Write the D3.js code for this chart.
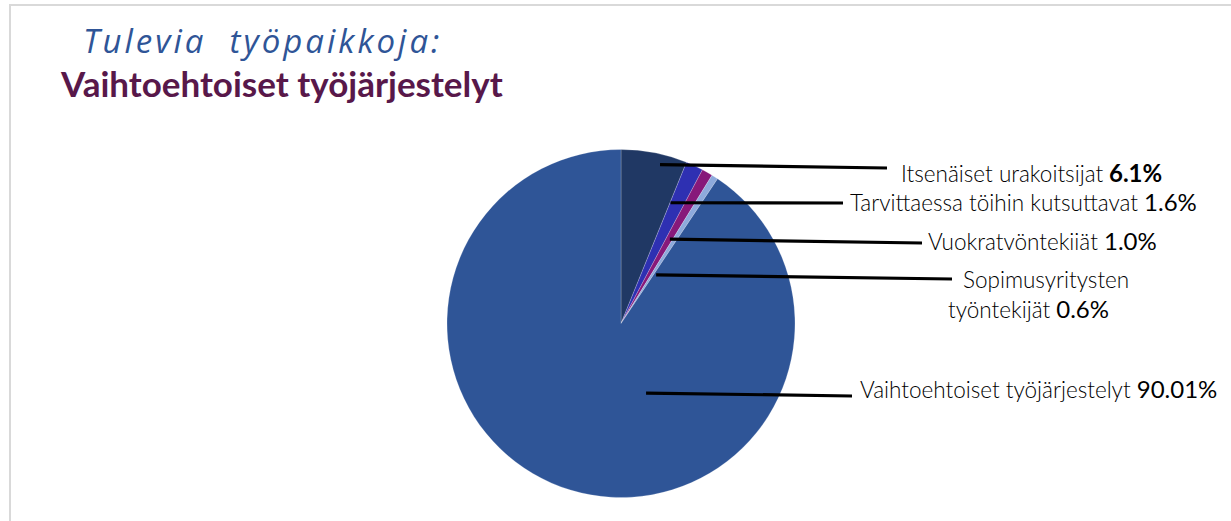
<!DOCTYPE html>
<html>
<head>
<meta charset="utf-8">
<style>
  html, body { margin: 0; padding: 0; background: #fff; }
  svg { display: block; }
</style>
</head>
<body>
<svg id="draw"></svg>

<script src="https://cdn.jsdelivr.net/npm/d3@7/dist/d3.min.js"></script>

<script>
    var width = 1231;
    var height = 521;

    // chart data
    var categories = ["Itsenäiset urakoitsijat", "Tarvittaessa töihin kutsuttavat", "Vuokratvöntekiiät", "Sopimusyritysten työntekijät", "Vaihtoehtoiset työjärjestelyt"];
    var values = [6.1, 1.6, 1.0, 0.6, 90.01];
    var valueLabels = ["6.1%", "1.6%", "1.0%", "0.6%", "90.01%"];

    var sliceColors = ["#203864", "#2e30b2", "#87197a", "#8eaadc", "#2f5597"];

    // where the labels sit (layout only)
    var labelLayout = [
        {deg: 13.8, r: 0.94, end: [887, 168], lines: [{x: 901, y: 182, name: "Itsenäiset urakoitsijat", val: true}], bold: 700},
        {deg: 22.3, r: 0.75, end: [843, 203], lines: [{x: 850, y: 211, name: "Tarvittaessa töihin kutsuttavat", val: true}], bold: 400},
        {deg: 30.1, r: 0.56, end: [922, 243], lines: [{x: 928, y: 250, name: "Vuokratvöntekiiät", val: true}], bold: 400},
        {deg: 35.8, r: 0.345, end: [952, 279], lines: [{x: 963, y: 288, name: "Sopimusyritysten", val: false}, {x: 948, y: 318, name: "työntekijät", val: true}], bold: 400},
        {deg: 160.2, r: 0.425, end: [852, 396], lines: [{x: 860, y: 398, name: "Vaihtoehtoiset työjärjestelyt", val: true}], bold: 400}
    ];

    var cx = 621, cy = 323.5, radius = 174;

    const svg = d3.select("svg#draw")
        .attr("width", width)
        .attr("height", height)
        .attr("viewBox", [0, 0, width, height]);

    // frame lines (top + left)
    svg.append("line")
        .attr("x1", 9).attr("x2", width).attr("y1", 5).attr("y2", 5)
        .attr("stroke", "#d9d9d9").attr("stroke-width", 2);
    svg.append("line")
        .attr("x1", 10).attr("x2", 10).attr("y1", 5).attr("y2", height)
        .attr("stroke", "#d9d9d9").attr("stroke-width", 2);

    // titles
    svg.append("text")
        .attr("x", 83).attr("y", 53)
        .attr("xml:space", "preserve")
        .style("white-space", "pre")
        .attr("font-family", "'Open Sans', sans-serif")
        .attr("font-style", "italic")
        .attr("font-size", 33)
        .attr("letter-spacing", 3)
        .attr("fill", "#2f5597")
        .text("Tulevia  työpaikkoja:");

    svg.append("text")
        .attr("x", 61).attr("y", 97)
        .attr("font-family", "Lato, sans-serif")
        .attr("font-weight", 700)
        .attr("font-size", 35)
        .attr("fill", "#58184a")
        .text("Vaihtoehtoiset työjärjestelyt");

    // pie
    var pie = d3.pie().sort(null).value(d => d);
    var arcs = pie(values);
    var arc = d3.arc().innerRadius(0).outerRadius(radius);

    var g = svg.append("g").attr("transform", `translate(${cx},${cy})`);

    g.selectAll("path")
        .data(arcs)
        .join("path")
        .attr("d", arc)
        .attr("fill", (d, i) => sliceColors[i])
        .attr("stroke", "#ffffff")
        .attr("stroke-opacity", 0.35)
        .attr("stroke-width", 0.6);

    // leader lines
    svg.append("g").selectAll("line")
        .data(labelLayout)
        .join("line")
        .attr("x1", d => cx + d3.pointRadial(d.deg * Math.PI / 180, d.r * radius)[0])
        .attr("y1", d => cy + d3.pointRadial(d.deg * Math.PI / 180, d.r * radius)[1])
        .attr("x2", d => d.end[0])
        .attr("y2", d => d.end[1])
        .attr("stroke", "#000")
        .attr("stroke-width", 3.2);

    // labels
    labelLayout.forEach((lay, i) => {
        lay.lines.forEach(l => {
            var t = svg.append("text")
                .attr("x", l.x).attr("y", l.y)
                .attr("font-family", "Lato, sans-serif")
                .attr("font-weight", 300)
                .attr("font-size", 22.5)
                .attr("fill", "#000");
            t.append("tspan").text(l.name);
            if (l.val) {
                t.append("tspan")
                    .attr("font-weight", lay.bold)
                    .attr("font-size", 24)
                    .text(" " + valueLabels[i]);
            }
        });
    });
</script>
</body>
</html>
